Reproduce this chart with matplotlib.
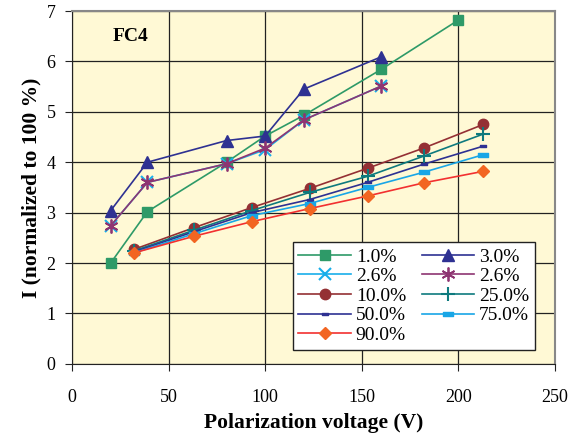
import matplotlib
matplotlib.use('Agg')
from matplotlib import pyplot as plt
from matplotlib.path import Path

# voltages
volt_hi = [20, 39, 80, 100, 120, 160, 200]
volt_lo = [32, 63, 93, 123, 153, 182, 213]

# currents normalized to 100 %
c_1_0 = [2.0, 3.02, 4.0, 4.52, 4.93, 5.84, 6.82]
c_3_0 = [3.04, 4.0, 4.43, 4.52, 5.45, 6.09]
c_2_6a = [2.74, 3.60, 3.97, 4.25, 4.84, 5.51]
c_2_6b = [2.74, 3.60, 3.97, 4.28, 4.84, 5.51]
c_10 = [2.27, 2.70, 3.10, 3.48, 3.88, 4.28, 4.75]
c_25 = [2.24, 2.65, 3.04, 3.40, 3.72, 4.12, 4.56]
c_50 = [2.22, 2.62, 3.00, 3.26, 3.60, 3.96, 4.32]
c_75 = [2.20, 2.58, 2.94, 3.18, 3.50, 3.80, 4.15]
c_90 = [2.20, 2.53, 2.82, 3.08, 3.33, 3.59, 3.82]

plt.rcParams['font.family'] = ['Liberation Serif', 'DejaVu Serif']

# short horizontal bar marker (Excel style dash)
bar = Path([(-1, -0.35), (1, -0.35), (1, 0.35), (-1, 0.35), (-1, -0.35)],
           [Path.MOVETO, Path.LINETO, Path.LINETO, Path.LINETO, Path.CLOSEPOLY])

fig = plt.figure(figsize=(5.72, 4.41), dpi=100)
ax = fig.add_axes([0.126, 0.175, 0.844, 0.800])
ax.set_facecolor('#FFF9D5')

lw = 1.2
h = {}
h['1.0'], = ax.plot(volt_hi, c_1_0, color='#2E9A68', marker='s', ms=7, lw=lw,
                    label='1.0%')
h['3.0'], = ax.plot(volt_hi[:6], c_3_0, color='#2E3192', marker='^', ms=8.5,
                    lw=lw, label='3.0%')
h['2.6a'], = ax.plot(volt_hi[:6], c_2_6a, color='#19AEEA', marker='x', ms=8,
                     mew=1.5, lw=lw, label='2.6%')
h['2.6b'], = ax.plot(volt_hi[:6], c_2_6b, color='#8E3572', marker=(6, 2, 0),
                     ms=10, mew=1.3, lw=lw, label='2.6%')
h['10'], = ax.plot(volt_lo, c_10, color='#943034', marker='o', ms=7.5, lw=lw,
                   label='10.0%')
h['25'], = ax.plot(volt_lo, c_25, color='#0E7A7E', marker='+', ms=10,
                   mew=1.5, lw=lw, label='25.0%')
h['50'], = ax.plot(volt_lo, c_50, color='#2E3192', marker=bar, ms=5, lw=lw,
                   label='50.0%')
h['75'], = ax.plot(volt_lo, c_75, color='#19A6E6', marker=bar, ms=7, lw=lw,
                   label='75.0%')
h['90'], = ax.plot(volt_lo, c_90, color='#F23030', marker='D', ms=6.5,
                   mfc='#F26522', mec='#F26522', lw=lw, label='90.0%')

ax.set_xlim(0, 250)
ax.set_ylim(0, 7)
ax.set_xticks(range(0, 251, 50))
ax.set_yticks(range(0, 8))
ax.grid(True, color='#222222', lw=0.9)
ax.set_axisbelow(True)
ax.tick_params(direction='out', length=5, labelsize=13, color='#222222')
ax.tick_params(axis='x', pad=13)
ax.tick_params(axis='y', pad=7)
for s in ['top', 'right']:
    ax.spines[s].set_color('#888888')
    ax.spines[s].set_linewidth(1.5)
for s in ['left', 'bottom']:
    ax.spines[s].set_color('#222222')

ax.set_xlabel('Polarization voltage (V)', fontsize=15.5, fontweight='bold',
              labelpad=5)
ax.set_ylabel('I (normalized to 100 %)', fontsize=15.5, fontweight='bold')
ax.yaxis.set_label_coords(-0.064, 0.5)
ax.text(30.5, 6.49, 'FC4', fontsize=14, fontweight='bold', ha='center',
        va='center')

order = ['1.0', '2.6a', '10', '50', '90', '3.0', '2.6b', '25', '75']
leg = ax.legend([h[k] for k in order], [h[k].get_label() for k in order],
                ncol=2, loc='lower right', bbox_to_anchor=(0.9586, 0.04),
                borderaxespad=0, fontsize=14, handlelength=2.7,
                handletextpad=0.25, columnspacing=0.8, labelspacing=0.1,
                borderpad=0.3, fancybox=False, framealpha=1,
                edgecolor='#222222')
leg.get_frame().set_linewidth(1.0)

fig.savefig('out.png', dpi=100)
